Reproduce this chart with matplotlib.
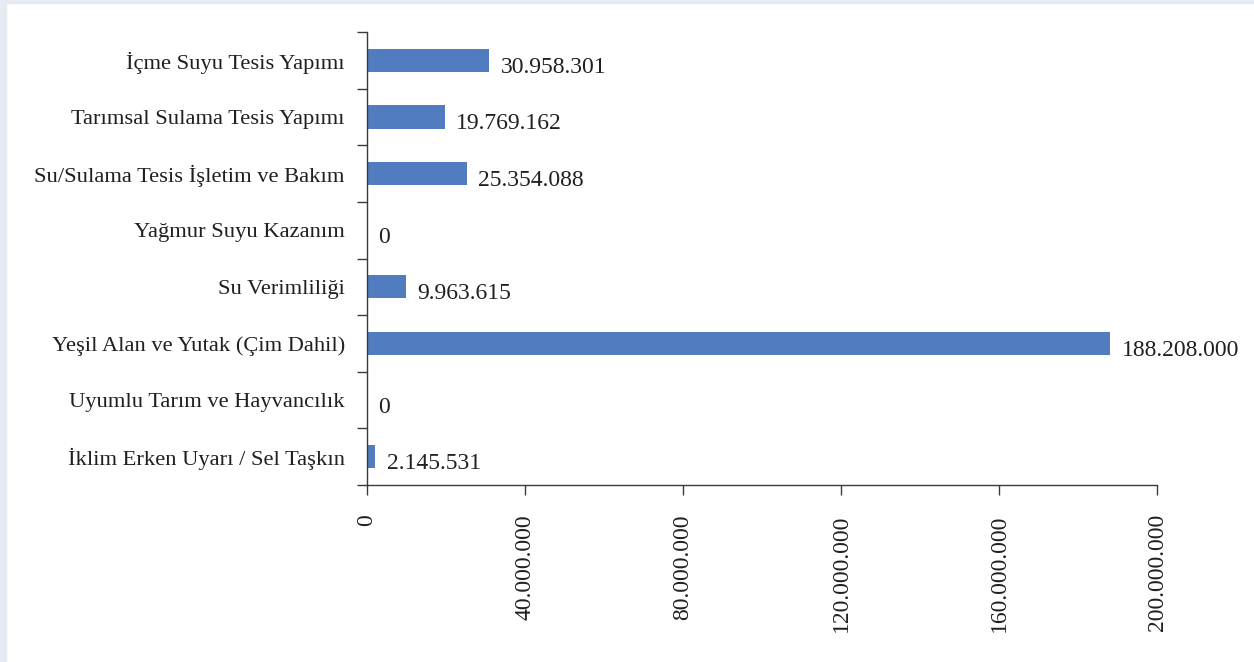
import numpy as np
import matplotlib.pyplot as plt
from matplotlib.patches import Rectangle
from matplotlib.ticker import FuncFormatter, FixedLocator

categories = [
    'İçme Suyu Tesis Yapımı',
    'Tarımsal Sulama Tesis Yapımı',
    'Su/Sulama Tesis İşletim ve Bakım',
    'Yağmur Suyu Kazanım',
    'Su Verimliliği',
    'Yeşil Alan ve Yutak (Çim Dahil)',
    'Uyumlu Tarım ve Hayvancılık',
    'İklim Erken Uyarı / Sel Taşkın',
]
values = [30958301, 19769162, 25354088, 0, 9963615, 188208000, 0, 2145531]
x_ticks = [0, 40000000, 80000000, 120000000, 160000000, 200000000]

BAR_COLOR = '#517dc0'
TEXT_COLOR = '#231f20'


def dotted(v, pos=None):
    return f'{int(v):,}'.replace(',', '.')


def main():
    plt.rcParams['font.family'] = ['Liberation Serif', 'DejaVu Serif']

    fig = plt.figure(figsize=(12.54, 6.62), dpi=100, facecolor='white')
    # grey frame strips on the left and top edges
    fig.patches.append(Rectangle((0, 0), 6 / 1254, 1, transform=fig.transFigure,
                                 color='#e6eaf2', zorder=0))
    fig.patches.append(Rectangle((0, 1 - 3 / 662), 1, 3 / 662, transform=fig.transFigure,
                                 color='#e6eaf2', zorder=0))

    ax = fig.add_axes([367 / 1254, 177 / 662, 790 / 1254, 453 / 662])
    y = np.arange(len(categories))
    ax.barh(y, values, height=0.41, color=BAR_COLOR)

    for yi, v in zip(y, values):
        ax.annotate(dotted(v), (v, yi), xytext=(8, -5), textcoords='offset points',
                    ha='left', va='center', fontsize=17, color=TEXT_COLOR)

    ax.set_ylim(len(categories) - 0.5, -0.5)
    ax.set_xlim(0, 200000000)
    ax.set_yticks(y)
    ax.set_yticklabels(categories, fontsize=16.2, color=TEXT_COLOR)
    ax.yaxis.set_minor_locator(FixedLocator(np.arange(-0.5, len(categories), 1)))
    ax.tick_params(axis='y', which='major', length=0, pad=16)
    ax.tick_params(axis='y', which='minor', length=7, width=1, color='#3a3a3a')

    ax.set_xticks(x_ticks)
    ax.xaxis.set_major_formatter(FuncFormatter(dotted))
    ax.tick_params(axis='x', length=7, width=1, color='#3a3a3a', pad=14,
                   labelsize=17, labelcolor=TEXT_COLOR)
    for lbl in ax.get_xticklabels():
        lbl.set_rotation(90)

    for side in ('top', 'right'):
        ax.spines[side].set_visible(False)
    for side in ('left', 'bottom'):
        ax.spines[side].set_color('#3a3a3a')
        ax.spines[side].set_linewidth(1)

    fig.savefig('out.png', dpi=100, facecolor=fig.get_facecolor())


if __name__ == '__main__':
    main()
